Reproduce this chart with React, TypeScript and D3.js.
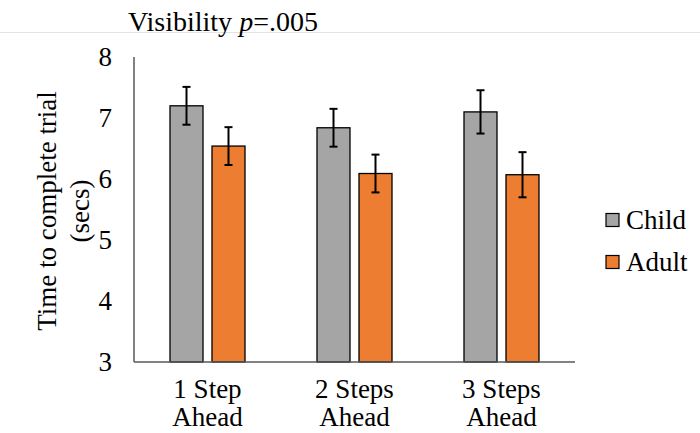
import React from "react";
import * as d3 from "d3";

const categories = [["1 Step", "Ahead"], ["2 Steps", "Ahead"], ["3 Steps", "Ahead"]];
const seriesNames = ["Child", "Adult"];
const childValues = [7.2, 6.84, 7.1];
const adultValues = [6.54, 6.09, 6.07];
const childErrors = [0.31, 0.31, 0.355];
const adultErrors = [0.31, 0.31, 0.37];
const yTicks = [3, 4, 5, 6, 7, 8];
const colors = ["#A5A5A5", "#ED7D31"];

const W = 700;
const H = 433;
const FONT = "'Liberation Serif', 'Times New Roman', serif";
const ts = (size: number): React.CSSProperties => ({ fontFamily: FONT, fontSize: `${size}px` });

export default function App() {
  const x0 = d3.scaleBand<number>().domain([0, 1, 2]).range([134, 575]).paddingInner(0).paddingOuter(0);
  const y = d3.scaleLinear().domain([3, 8]).range([362, 57]);
  const barW = 33;
  const gap = 9;
  const values = [childValues, adultValues];
  const errors = [childErrors, adultErrors];

  return (
    <svg width={W} height={H} style={{ position: "fixed", left: 0, top: 0, background: "#fff" }}>
      <rect x={0} y={0} width={W} height={H} fill="#fff" />
      <line x1={0} x2={W} y1={32.5} y2={32.5} stroke="#e3e3e3" strokeWidth={1} />
      <text x={128} y={31} style={ts(28)} fill="#000">
        Visibility <tspan fontStyle="italic">p</tspan>=.005
      </text>

      {yTicks.map((t) => (
        <text key={t} x={112} y={y(t)} dy="0.33em" textAnchor="end" style={ts(27)} fill="#000">
          {t}
        </text>
      ))}

      <g transform={`translate(47,211) rotate(-90)`}>
        <text x={0} y={0} dy="0.33em" textAnchor="middle" style={ts(27)} fill="#000">Time to complete trial</text>
        <text x={0} y={33} dy="0.33em" textAnchor="middle" style={ts(27)} fill="#000">(secs)</text>
      </g>

      {categories.map((_, i) => {
        const cx = (x0(i) as number) + x0.bandwidth() / 2;
        return (
          <g key={i}>
            {values.map((vals, s) => {
              const bx = s === 0 ? cx - gap / 2 - barW : cx + gap / 2;
              const v = vals[i];
              const e = errors[s][i];
              const mid = bx + barW / 2;
              return (
                <g key={s}>
                  <rect x={bx} y={y(v)} width={barW} height={y(3) - y(v)} fill={colors[s]} stroke="#000" strokeWidth={1.3} />
                  <line x1={mid} x2={mid} y1={y(v + e)} y2={y(v - e)} stroke="#000" strokeWidth={2} />
                  <line x1={mid - 4} x2={mid + 4} y1={y(v + e)} y2={y(v + e)} stroke="#000" strokeWidth={2} />
                  <line x1={mid - 4} x2={mid + 4} y1={y(v - e)} y2={y(v - e)} stroke="#000" strokeWidth={2} />
                </g>
              );
            })}
            <text x={cx} y={398} textAnchor="middle" style={ts(27)} fill="#000">{categories[i][0]}</text>
            <text x={cx} y={426} textAnchor="middle" style={ts(27)} fill="#000">{categories[i][1]}</text>
          </g>
        );
      })}

      <line x1={134} x2={134} y1={y(8)} y2={y(3)} stroke="#595959" strokeWidth={1.5} />
      <line x1={134} x2={575} y1={y(3)} y2={y(3)} stroke="#595959" strokeWidth={1.5} />

      {seriesNames.map((n, i) => (
        <g key={n} transform={`translate(606,${220 + i * 42})`}>
          <rect x={0} y={-6.5} width={13} height={13} fill={colors[i]} stroke="#000" strokeWidth={1.2} />
          <text x={20} y={0} dy="0.33em" style={ts(27)} fill="#000">{n}</text>
        </g>
      ))}
    </svg>
  );
}
